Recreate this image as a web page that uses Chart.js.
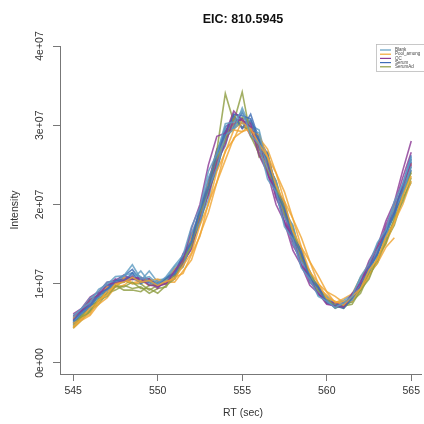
<!DOCTYPE html>
<html>
<head>
<meta charset="utf-8">
<script src="https://cdn.jsdelivr.net/npm/chart.js@4.4.1/dist/chart.umd.min.js"></script>
<style>
  html, body { margin: 0; padding: 0; background: #fff; overflow: hidden; }
  canvas { display: block; }
</style>
</head>
<body>
<canvas id="eic" width="424" height="424"></canvas>
<script>
// tempo de retenção (s)
const rt = [545, 545.5, 546, 546.5, 547, 547.5, 548, 548.5, 549, 549.5,
  550, 550.5, 551, 551.5, 552, 552.5, 553, 553.5, 554, 554.5,
  555, 555.5, 556, 556.5, 557, 557.5, 558, 558.5, 559, 559.5,
  560, 560.5, 561, 561.5, 562, 562.5, 563, 563.5, 564, 564.5, 565];

// intensidades em milhões (1e6)
const blank1 = [5.8,6.9,7.6,9.3,9.9,10.9,11.0,12.4,10.6,10.9,10.0,10.9,12.3,13.6,17.2,19.6,24.2,26.4,30.2,30.4,31.8,28.8,27.6,23.2,21.6,17.2,15.6,12.0,10.6,8.4,7.8,7.0,7.6,8.4,10.9,12.5,15.2,16.8,20.4,22.6,26.0];
const blank2 = [5.2,6.4,7.2,8.7,9.2,10.3,10.4,10.6,11.6,10.2,9.9,10.4,11.3,12.2,15.4,17.8,22.0,24.6,28.8,29.4,32.2,29.6,29.0,24.4,22.4,18.4,16.6,12.8,11.3,9.0,8.1,7.0,7.5,7.9,10.2,11.5,14.3,16.0,19.4,21.4,24.8];
const blank3 = [6.0,6.8,8.2,8.9,10.2,10.3,11.0,11.4,10.9,9.8,10.5,10.6,12.1,13.2,16.4,19.0,23.4,25.6,29.6,29.6,30.4,30.0,29.4,25.0,23.0,19.0,17.4,13.2,11.6,9.2,8.4,7.4,7.9,8.6,10.7,12.1,15.0,16.6,20.0,22.0,25.6];
const blank4 = [4.8,6.1,6.8,8.4,9.0,10.1,10.2,11.2,10.4,11.6,10.2,10.4,10.8,12.8,14.4,18.2,20.6,25.4,27.4,31.4,30.8,30.6,27.2,25.8,21.4,19.4,15.0,13.4,10.2,9.3,7.6,7.5,7.2,8.5,9.7,12.3,13.7,16.8,18.6,22.2,24.8];
const pool1 = [4.6,5.6,6.2,7.9,8.6,10.0,10.2,10.8,10.2,10.4,9.8,10.3,10.6,12.3,13.9,17.4,20.0,24.2,26.6,29.4,29.2,29.6,27.6,26.0,22.4,20.2,16.6,14.6,11.5,10.1,8.2,7.8,7.3,8.4,9.4,11.7,13.1,15.9,17.7,21.1,23.6];
const pool2 = [5.0,5.6,7.0,7.6,9.1,9.6,10.6,10.0,10.2,10.4,10.6,10.2,10.8,11.3,13.7,16.0,20.2,22.8,26.8,28.2,30.6,29.2,28.8,26.0,24.0,20.4,18.2,14.6,12.8,10.0,9.0,7.6,7.8,7.8,9.4,10.8,13.2,15.0,17.8,20.0,23.0];
const pool3 = [5.6,6.6,8.0,8.6,9.6,9.7,10.8,10.1,10.4,9.8,10.4,10.5,11.9,12.9,15.9,18.5,22.7,25.3,28.7,29.5,30.4,28.8,27.4,24.6,22.2,19.0,16.6,13.4,11.6,9.4,8.6,7.6,8.1,8.7,10.8,12.4,14.8,16.6,19.6,22.0,25.2];
const pool4 = [4.4,5.4,6.0,7.4,8.2,9.6,9.8,10.6,10.4,10.6,10.0,10.2,10.2,11.6,13.0,16.2,19.0,22.8,25.6,28.4,29.2,30.0,28.4,27.0,24.0,21.6,18.2,15.8,12.8,11.0,9.0,8.4,7.6,8.4,9.2,11.2,12.6,14.6,15.8,null,null];
const qc1 = [5.9,6.6,8.0,8.6,9.9,10.1,10.4,10.6,10.6,9.8,9.7,10.0,11.6,13.0,17.0,20.0,25.0,28.6,29.0,31.8,30.6,29.8,26.2,24.0,20.0,17.8,14.2,12.3,9.8,8.8,7.4,7.2,7.1,8.6,10.1,12.9,14.7,17.9,20.3,24.3,28.0];
const qc2 = [5.4,6.6,7.3,8.8,9.3,10.3,10.6,10.8,10.7,10.6,9.7,10.2,10.6,12.7,14.4,18.4,21.2,25.4,27.6,30.8,30.6,30.2,27.2,25.0,21.0,19.0,15.4,13.4,10.5,9.4,7.8,7.6,7.3,8.7,10.0,12.4,14.2,17.0,19.2,22.4,25.2];
const qc3 = [6.2,6.9,8.3,9.0,10.2,10.4,11.1,10.5,10.7,9.8,10.0,10.2,11.4,12.5,15.8,18.2,22.6,25.4,29.2,30.2,30.8,28.6,27.4,23.8,21.6,17.8,15.8,12.4,10.9,8.7,8.1,7.1,7.6,8.1,10.2,11.8,14.4,16.4,19.4,21.8,25.0];
const qc4 = [5.6,6.4,7.7,8.4,9.6,10.6,10.2,11.0,10.2,10.2,9.4,10.6,11.0,13.8,15.2,19.6,22.8,27.0,28.4,31.2,29.6,30.4,26.6,25.2,20.8,18.6,14.8,13.0,10.2,9.0,7.5,7.3,7.0,8.8,9.6,12.6,13.8,17.4,19.8,23.4,26.6];
const serum1 = [5.3,6.5,7.2,8.7,9.3,10.4,10.5,10.7,10.2,10.4,9.9,10.7,11.2,13.3,15.2,19.2,22.0,26.4,28.8,31.4,31.2,30.8,27.8,25.6,21.6,19.4,15.8,13.8,10.7,9.5,7.6,7.2,6.9,8.2,9.6,12.0,13.8,16.6,19.0,22.6,26.2];
const serum2 = [5.0,6.3,7.0,8.6,9.1,10.2,10.3,11.4,10.0,10.6,9.8,10.8,11.4,13.6,15.4,19.6,22.4,26.8,29.2,31.2,29.6,31.4,28.2,26.4,22.2,20.0,16.2,14.2,11.0,9.7,7.8,7.5,7.0,8.4,9.6,11.8,13.6,16.4,18.6,21.8,24.4];
const serum3 = [5.7,6.4,7.8,8.5,9.8,10.0,10.8,10.7,10.7,10.1,10.2,10.1,11.3,12.4,15.3,17.7,21.8,24.4,28.4,29.8,31.6,29.8,28.0,24.0,21.4,17.6,15.6,12.2,10.7,8.6,7.9,6.9,7.4,7.9,10.1,11.7,14.3,16.3,19.4,21.8,25.4];
const serum4 = [5.5,6.2,7.5,8.2,9.4,10.4,11.0,11.8,10.4,10.6,9.6,10.4,11.8,12.8,16.2,18.6,23.0,25.8,29.8,30.6,30.2,30.6,28.4,25.4,22.8,18.6,16.4,13.0,11.2,9.2,8.2,7.4,7.6,8.2,10.4,11.6,14.6,15.8,19.8,21.2,25.8];
const serumAd1 = [4.6,5.8,6.4,7.9,8.4,9.7,9.6,10.2,9.4,9.4,8.8,9.8,10.6,12.9,14.8,18.9,22.0,26.8,34.0,30.4,34.2,28.6,26.4,24.2,22.4,18.8,16.8,13.2,11.5,9.1,8.2,7.0,7.2,7.4,9.2,10.6,13.3,15.1,18.3,20.4,23.4];
const serumAd2 = [4.9,6.0,6.6,8.1,8.7,9.8,9.2,9.2,9.0,9.8,9.8,10.6,11.0,13.1,14.9,18.7,21.4,25.8,28.0,30.8,29.8,29.4,27.0,25.4,21.8,19.8,16.0,13.8,10.7,9.5,7.7,7.4,6.9,8.0,9.2,11.5,12.9,15.9,17.9,21.3,24.0];
const serumAd3 = [5.2,5.8,7.2,7.8,9.2,9.6,10.4,10.0,10.0,9.2,9.8,10.0,11.2,12.1,15.1,17.5,21.6,24.4,28.4,29.6,30.8,29.2,28.2,25.0,23.0,19.4,17.2,13.4,11.5,9.1,8.2,7.1,7.4,7.7,9.8,11.4,14.0,16.0,19.0,21.2,24.2];
const serumAd4 = [4.4,5.4,6.6,7.4,8.8,9.2,9.8,9.4,9.6,8.8,9.4,9.6,11.4,12.4,15.6,18.0,22.2,25.0,29.0,30.0,31.0,30.4,26.0,26.6,21.8,20.4,15.8,14.4,10.9,9.8,7.8,7.6,7.2,7.8,8.8,11.2,12.6,15.4,17.4,20.8,22.8];

const grupos = ['Blank', 'Pool_among', 'QC', 'Serum', 'SerumAd'];
const cores = ['#5e9cc2', '#f0a634', '#8c3a95', '#3f6db6', '#8e9d42'];

const amostras = [
  [0, blank1], [1, pool1], [2, qc1], [3, serum1], [4, serumAd1],
  [0, blank2], [1, pool2], [2, qc2], [3, serum2], [4, serumAd2],
  [0, blank3], [1, pool3], [2, qc3], [3, serum3], [4, serumAd3],
  [0, blank4], [1, pool4], [2, qc4], [3, serum4], [4, serumAd4]
];

const xTicks = [545, 550, 555, 560, 565];
const yTicks = [0, 10, 20, 30, 40];
const yTickLabels = ['0e+00', '1e+07', '2e+07', '3e+07', '4e+07'];

const titulo = 'EIC: 810.5945';
const xTitulo = 'RT (sec)';
const yTitulo = 'Intensity';

const fonte = '"Liberation Sans", Arial, sans-serif';

// desenha textos do estilo R e a legenda
const textosR = {
  id: 'textosR',
  afterDraw(chart) {
    const ctx = chart.ctx;
    const ys = chart.scales.y;
    const area = chart.chartArea;
    const cx = (area.left + 426) / 2;
    ctx.save();
    ctx.fillStyle = '#333';
    ctx.textAlign = 'center';
    ctx.textBaseline = 'middle';
    ctx.font = '10.5px ' + fonte;
    yTicks.forEach((v, i) => {
      ctx.save();
      ctx.translate(40, ys.getPixelForValue(v));
      ctx.rotate(-Math.PI / 2);
      ctx.fillText(yTickLabels[i], 0, 0);
      ctx.restore();
    });
    ctx.save();
    ctx.translate(15, (area.top + area.bottom) / 2);
    ctx.rotate(-Math.PI / 2);
    ctx.fillText(yTitulo, 0, 0);
    ctx.restore();
    ctx.fillText(xTitulo, cx, 413);
    ctx.fillStyle = '#111';
    ctx.font = 'bold 12.5px ' + fonte;
    ctx.fillText(titulo, cx, 20);

    // legenda
    const lx = 376, ly = 44;
    ctx.fillStyle = '#fff';
    ctx.fillRect(lx, ly, 60, 28);
    ctx.strokeStyle = '#bbb';
    ctx.lineWidth = 0.8;
    ctx.strokeRect(lx + 0.5, ly + 0.5, 60, 27);
    ctx.font = '4.5px ' + fonte;
    ctx.textAlign = 'left';
    grupos.forEach((g, i) => {
      const yy = ly + 6 + i * 4.2;
      ctx.strokeStyle = cores[i];
      ctx.lineWidth = 1.2;
      ctx.beginPath();
      ctx.moveTo(lx + 4, yy);
      ctx.lineTo(lx + 15, yy);
      ctx.stroke();
      ctx.fillStyle = '#444';
      ctx.fillText(g, lx + 19, yy);
    });
    ctx.restore();
  }
};

const datasets = amostras.map(([g, vals], k) => ({
  label: grupos[g] + ' ' + (k + 1),
  data: rt.map((x, i) => ({ x: x, y: vals[i] })),
  borderColor: cores[g] + 'd0',
  borderWidth: 1.6,
  pointRadius: 0,
  tension: 0,
  fill: false
}));

new Chart(document.getElementById('eic'), {
  type: 'line',
  data: { datasets: datasets },
  options: {
    responsive: false,
    animation: false,
    layout: { padding: { top: 46, right: 0, left: 0, bottom: 0 } },
    plugins: {
      legend: { display: false },
      title: { display: false },
      tooltip: { enabled: false }
    },
    scales: {
      x: {
        type: 'linear',
        min: 544.22,
        max: 565.63,
        afterBuildTicks: s => { s.ticks = xTicks.map(v => ({ value: v })); },
        afterFit: s => { s.height = 50; },
        grid: { drawOnChartArea: false, tickLength: 7, color: '#777', tickWidth: 1 },
        border: { display: true, color: '#777', width: 1 },
        ticks: { color: '#333', padding: 4, font: { size: 10.5, family: fonte }, maxRotation: 0, autoSkip: false }
      },
      y: {
        type: 'linear',
        min: -1.39,
        max: 40,
        afterBuildTicks: s => { s.ticks = yTicks.map(v => ({ value: v })); },
        afterFit: s => { s.width = 60; },
        grid: { drawOnChartArea: false, tickLength: 7, color: '#777', tickWidth: 1 },
        border: { display: true, color: '#777', width: 1 },
        ticks: { color: 'rgba(0,0,0,0)', font: { size: 10.5, family: fonte } }
      }
    }
  },
  plugins: [textosR]
});
</script>
</body>
</html>
